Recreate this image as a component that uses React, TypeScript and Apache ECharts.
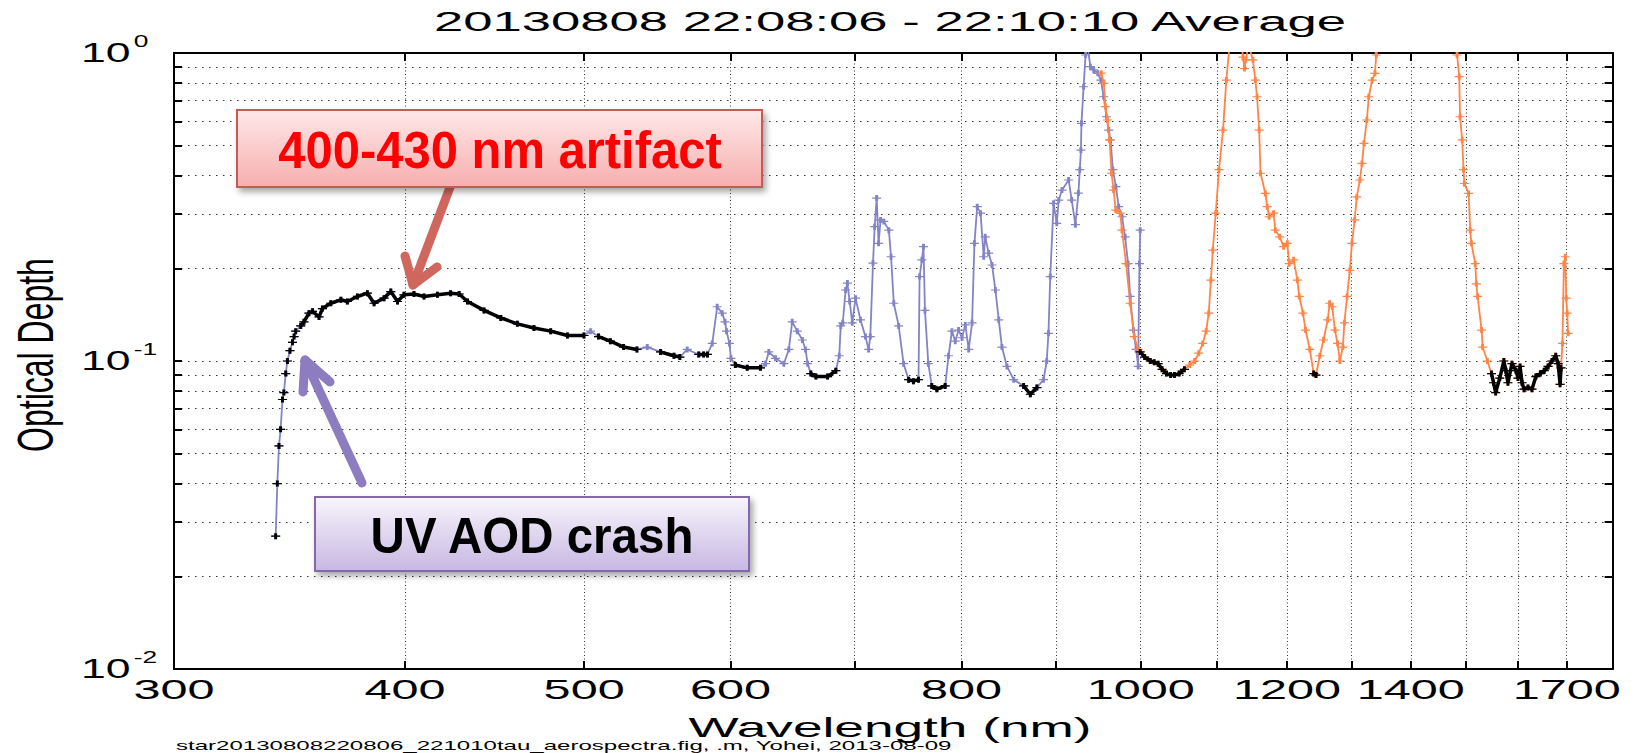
import { useEffect, useRef } from "react";
import * as echarts from "echarts";

// VIS spectrometer: wavelength (nm) and aerosol optical depth
const visWavelength = [
  340.5, 341.2, 341.9, 342.6, 343.4, 344.0, 344.8, 345.5, 346.6, 347.7, 348.4, 349.1,
  351.3, 352.7, 354.9, 356.5, 359.4, 360.9, 364.7, 369.3, 372.3, 377.0, 381.7, 384.9,
  389.7, 393.0, 396.3, 399.5, 404.5, 409.6, 416.5, 423.4, 427.9, 432.4, 441.4, 450.7,
  460.1, 469.7, 479.6, 489.7, 499.9, 504.0, 509.0, 516.6, 525.2, 534.0, 540.9, 549.9,
  559.2, 563.3, 568.5, 576.7, 580.2, 583.0, 586.5, 590.1, 593.8, 595.9, 597.0, 599.2,
  600.3, 603.6, 612.6, 622.8, 626.7, 629.3, 634.6, 641.2, 645.2, 647.9, 652.0, 656.2,
  658.7, 660.5, 663.1, 667.3, 677.1, 684.1, 687.0, 688.3, 690.0, 692.5, 694.0, 696.0,
  698.2, 701.1, 705.4, 709.8, 712.6, 714.1, 716.5, 718.0, 719.8, 721.5, 723.3, 726.2,
  730.8, 732.8, 735.3, 739.8, 744.3, 749.0, 753.5, 758.3, 759.3, 761.5, 763.0, 764.4,
  767.6, 770.9, 775.8, 783.9, 787.2, 790.5, 793.8, 797.1, 800.5, 803.8, 807.2, 810.6,
  813.0, 815.8, 819.2, 822.4, 824.0, 827.5, 831.0, 834.5, 838.0, 841.3, 846.6, 853.7,
  864.3, 871.6, 878.8, 886.1, 889.6, 891.5, 893.5, 897.2, 900.8, 903.0, 906.7, 914.2,
  917.7, 921.9, 925.4, 927.0, 928.3, 928.9, 931.4, 933.7, 936.0, 939.3, 943.2, 948.0,
  951.7, 955.0, 958.3, 961.0, 963.2, 966.0, 969.6, 973.0, 977.0, 980.8, 984.5, 987.0,
  991.0, 994.3, 996.9, 998.5, 999.4,
];
const visTau = [
  0.027, 0.040, 0.053, 0.060, 0.075, 0.079, 0.091, 0.100, 0.108, 0.115, 0.120, 0.125,
  0.130, 0.134, 0.143, 0.145, 0.139, 0.148, 0.154, 0.158, 0.156, 0.162, 0.166, 0.154,
  0.160, 0.168, 0.156, 0.164, 0.165, 0.162, 0.164, 0.166, 0.165, 0.156, 0.146, 0.138,
  0.132, 0.128, 0.125, 0.121, 0.121, 0.125, 0.120, 0.116, 0.111, 0.109, 0.111, 0.107,
  0.104, 0.103, 0.109, 0.105, 0.105, 0.105, 0.114, 0.150, 0.143, 0.134, 0.125, 0.114,
  0.102, 0.097, 0.095, 0.095, 0.098, 0.107, 0.102, 0.098, 0.109, 0.134, 0.125, 0.117,
  0.109, 0.098, 0.091, 0.089, 0.089, 0.093, 0.104, 0.130, 0.133, 0.170, 0.179, 0.156,
  0.133, 0.160, 0.136, 0.120, 0.109, 0.120, 0.208, 0.273, 0.338, 0.241, 0.287, 0.284,
  0.266, 0.218, 0.154, 0.130, 0.098, 0.087, 0.086, 0.087, 0.188, 0.213, 0.235, 0.146,
  0.098, 0.083, 0.081, 0.083, 0.104, 0.125, 0.116, 0.126, 0.119, 0.131, 0.109, 0.133,
  0.241, 0.317, 0.302, 0.218, 0.253, 0.224, 0.205, 0.170, 0.136, 0.111, 0.096, 0.087,
  0.083, 0.078, 0.082, 0.087, 0.100, 0.123, 0.188, 0.325, 0.280, 0.333, 0.359, 0.387,
  0.333, 0.277, 0.351, 0.418, 0.484, 0.591, 0.777, 0.985, 1.050, 0.903, 0.881, 0.859,
  0.817, 0.721, 0.621, 0.562, 0.522, 0.418, 0.368, 0.317, 0.294, 0.253, 0.207, 0.162,
  0.126, 0.109, 0.096, 0.207, 0.266,
];

// NIR spectrometer: wavelength (nm) and optical depth (values above 1 run off the top)
const nirWavelength = [
  952.0, 955.2, 957.0, 959.5, 962.0, 964.4, 966.8, 969.5, 974.8, 977.0, 982.0, 987.0,
  992.0, 996.9, 999.4, 1005, 1012, 1017, 1022, 1027, 1032.6, 1038, 1043, 1049,
  1056, 1063, 1069.5, 1075, 1080.3, 1085, 1088.5, 1091.4, 1094, 1098, 1102.5, 1108,
  1112.6, 1116.4, 1121, 1126, 1131, 1134, 1136, 1138, 1140, 1143, 1146, 1150,
  1153.5, 1156, 1159, 1161, 1168, 1170.7, 1173.5, 1180, 1182.6, 1189, 1195, 1200.4,
  1203.2, 1210, 1215.5, 1218.4, 1224, 1228, 1234.5, 1240.5, 1244, 1250, 1255.7, 1262.4,
  1265.3, 1269.4, 1273.8, 1277.9, 1281.6, 1286.4, 1288.8, 1293.1, 1297.6, 1301, 1305.4, 1308.9,
  1314, 1317.4, 1320.6, 1325.4, 1328.6, 1334.2, 1338.8, 1341, 1346, 1360, 1400, 1440,
  1470, 1480, 1483, 1487, 1488.5, 1492.5, 1495, 1496.5, 1504.5, 1507.5, 1509.6, 1517,
  1519, 1521.4, 1529, 1531, 1540, 1548, 1552, 1556, 1564, 1572, 1576, 1580,
  1588, 1596, 1600, 1604, 1608, 1612, 1620, 1628, 1636, 1645, 1653, 1661,
  1669, 1677, 1682, 1686, 1688, 1691, 1694, 1697, 1699, 1701, 1703,
];
const nirTau = [
  0.860, 0.797, 0.670, 0.606, 0.522, 0.407, 0.359, 0.309, 0.302, 0.266, 0.207, 0.154,
  0.120, 0.109, 0.107, 0.103, 0.100, 0.099, 0.098, 0.094, 0.091, 0.090, 0.090, 0.091,
  0.094, 0.097, 0.100, 0.106, 0.114, 0.125, 0.143, 0.183, 0.229, 0.302, 0.418, 0.562,
  0.817, 1.020, 1.600, 2.200, 1.500, 1.060, 0.970, 0.890, 0.950, 1.040, 1.020, 0.950,
  0.817, 0.721, 0.562, 0.407, 0.350, 0.317, 0.294, 0.302, 0.266, 0.253, 0.235, 0.241,
  0.207, 0.213, 0.183, 0.162, 0.143, 0.126, 0.109, 0.091, 0.090, 0.104, 0.117, 0.136,
  0.154, 0.150, 0.126, 0.114, 0.100, 0.111, 0.133, 0.162, 0.197, 0.241, 0.287, 0.341,
  0.387, 0.438, 0.509, 0.606, 0.721, 0.817, 0.859, 0.985, 1.500, 3.000, 5.000, 5.000,
  3.000, 1.400, 0.985, 0.838, 0.621, 0.522, 0.418, 0.377, 0.350, 0.266, 0.241, 0.207,
  0.178, 0.162, 0.126, 0.111, 0.100, 0.091, 0.085, 0.079, 0.088, 0.100, 0.093, 0.085,
  0.098, 0.093, 0.088, 0.096, 0.085, 0.081, 0.082, 0.081, 0.089, 0.091, 0.093, 0.096,
  0.100, 0.104, 0.098, 0.084, 0.095, 0.114, 0.207, 0.218, 0.160, 0.143, 0.123,
];

// Aerosol (non-absorbing) wavelength windows, marked in black
const aerosolBands: [number, number][] = [
  [350, 501], [509, 539], [545, 566], [572, 584], [603, 625], [663, 685],
  [749, 758.5], [770, 785], [860, 882], [999, 1060], [1238, 1246], [1545, 1688],
];
// UV onset: aerosol points drawn as separate markers only
const aerosolMarkerBands: [number, number][] = [[340, 349.5]];

const xTickValues = [300, 400, 500, 600, 700, 800, 900, 1000, 1100, 1200, 1300, 1400, 1500, 1600, 1700, 1800];
const xLabelValues = [300, 400, 500, 600, 800, 1000, 1200, 1400, 1700];
const yTickValues = [
  0.01, 0.02, 0.03, 0.04, 0.05, 0.06, 0.07, 0.08, 0.09,
  0.1, 0.2, 0.3, 0.4, 0.5, 0.6, 0.7, 0.8, 0.9, 1,
];
const yLabelExponents = [-2, -1, 0];

const titleText = "20130808 22:08:06 - 22:10:10 Average";
const xAxisTitle = "Wavelength (nm)";
const yAxisTitle = "Optical Depth";
const footnoteText = "star20130808220806_221010tau_aerospectra.fig, .m, Yohei, 2013-08-09";
const artifactNote = "400-430 nm artifact";
const crashNote = "UV AOD crash";

const VIS_COLOR = "#8383c6";
const NIR_COLOR = "#ff8446";
const AERO_COLOR = "#000000";
const FONT = '"Liberation Sans", Arial, sans-serif';
const PLUS = "path://M0,4L10,4L10,6L0,6Z M3.4,0L6.6,0L6.6,10L3.4,10Z";

const lg = (v: number) => Math.log10(v);

function pairs(w: number[], t: number[]) {
  return w.map((x, i) => [lg(x), lg(t[i])]);
}

function sourceFor(lo: number) {
  return lo >= 999 ? { w: nirWavelength, t: nirTau } : { w: visWavelength, t: visTau };
}

function aerosolData() {
  const out: any[] = [];
  for (const [lo, hi] of aerosolMarkerBands) {
    const { w, t } = sourceFor(lo);
    w.forEach((x, i) => {
      if (x >= lo && x <= hi) {
        out.push([lg(x), lg(t[i])]);
        out.push([lg(x), "-"]);
      }
    });
  }
  for (const [lo, hi] of aerosolBands) {
    const { w, t } = sourceFor(lo);
    w.forEach((x, i) => {
      if (x >= lo && x <= hi) out.push([lg(x), lg(t[i])]);
    });
    out.push([lg(hi), "-"]);
  }
  return out;
}

function textEl(text: string, x: number, y: number, size: number, opts: any = {}) {
  const { align = "center", weight = "normal", fill = "#000", scaleX = 1, scaleY = 1, rotation = 0, z = 10 } = opts;
  return {
    type: "text",
    x,
    y,
    scaleX,
    scaleY,
    rotation,
    z,
    silent: true,
    style: {
      text,
      fill,
      fontSize: size,
      fontFamily: FONT,
      fontWeight: weight,
      align,
      textAlign: align,
      verticalAlign: "middle",
      textVerticalAlign: "middle",
    },
  };
}

function arrow(tail: number[], tip: number[], armA: number[], armB: number[], color: string) {
  const style = { stroke: color, lineWidth: 9, lineCap: "round", lineJoin: "round", fill: null };
  return [
    { type: "polyline", z: 20, silent: true, shape: { points: [tail, tip] }, style },
    { type: "polyline", z: 20, silent: true, shape: { points: [armA, tip, armB] }, style },
  ];
}

function noteBox(x: number, y: number, w: number, h: number, top: string, bottom: string, border: string) {
  return {
    type: "rect",
    z: 30,
    silent: true,
    shape: { x, y, width: w, height: h },
    style: {
      fill: new echarts.graphic.LinearGradient(0, 0, 0, 1, [
        { offset: 0, color: top },
        { offset: 1, color: bottom },
      ]),
      stroke: border,
      lineWidth: 2,
      shadowBlur: 6,
      shadowOffsetX: 3,
      shadowOffsetY: 4,
      shadowColor: "rgba(0,0,0,0.35)",
    },
  };
}

function axisPair(kind: "x" | "y") {
  const ticks = (kind === "x" ? xTickValues : yTickValues).map(lg);
  const range = kind === "x" ? [lg(300), lg(1800)] : [lg(0.01), lg(1)];
  const base = {
    type: "value",
    min: range[0],
    max: range[1],
    axisLine: { show: true, onZero: false, lineStyle: { color: "#000", width: 2 } },
    axisTick: { show: true, inside: true, length: 8, customValues: ticks, lineStyle: { color: "#000", width: 2 } },
    axisLabel: { show: false },
    splitLine: { show: false },
  };
  const grid = {
    ...base,
    splitLine: {
      show: true,
      lineStyle: { color: "#333333", width: 1, type: kind === "x" ? [1, 2.5] : [1.5, 5.5] },
    },
  };
  return kind === "x"
    ? [{ ...grid, position: "bottom" }, { ...base, position: "top" }]
    : [{ ...grid, position: "left" }, { ...base, position: "right" }];
}

export default function App() {
  const ref = useRef<HTMLDivElement>(null);

  useEffect(() => {
    if (!ref.current) return;
    const chart = echarts.init(ref.current, null, { renderer: "svg" });

    const lineSeries = (name: string, data: any[], color: string, width: number, size: number[], z: number) => ({
      name,
      type: "line",
      data,
      z,
      clip: true,
      silent: true,
      connectNulls: false,
      symbol: PLUS,
      symbolSize: size,
      itemStyle: { color, borderWidth: 0 },
      lineStyle: { color, width },
      emphasis: { disabled: true },
    });

    chart.setOption({
      animation: false,
      backgroundColor: "#ffffff",
      grid: { left: 174, right: 22.4, top: 53, bottom: 84, outerBoundsMode: "none" },
      xAxis: axisPair("x"),
      yAxis: axisPair("y"),
      series: [
        lineSeries("VIS", pairs(visWavelength, visTau), VIS_COLOR, 1.8, [9, 6], 2),
        lineSeries("NIR", pairs(nirWavelength, nirTau), NIR_COLOR, 1.8, [9, 6], 3),
        lineSeries("Aerosol", aerosolData(), AERO_COLOR, 3.5, [9, 6], 4),
      ],
    });

    const xLabels = xLabelValues.map((v) => {
      const px = chart.convertToPixel({ xAxisIndex: 0 }, lg(v)) as number;
      return textEl(String(v), px, 689, 27, { scaleX: 1.8 });
    });
    const yLabels = yLabelExponents.map((e) => {
      const py = chart.convertToPixel({ yAxisIndex: 0 }, e) as number;
      return {
        type: "text",
        x: 81,
        y: py,
        scaleX: 1.65,
        z: 10,
        silent: true,
        style: {
          text: `{b|10}{s|${e}}`,
          align: "left",
          textAlign: "left",
          verticalAlign: "middle",
          textVerticalAlign: "middle",
          rich: {
            b: { fontSize: 27, fontFamily: FONT, fill: "#000", lineHeight: 40, verticalAlign: "middle" },
            s: { fontSize: 16, fontFamily: FONT, fill: "#000", verticalAlign: "top", padding: [0, 0, 0, 2] },
          },
        },
      };
    });

    chart.setOption({
      graphic: {
        elements: [
          textEl(titleText, 890, 21, 28, { scaleX: 1.88 }),
          textEl(xAxisTitle, 890, 727, 28, { scaleX: 1.9 }),
          textEl(yAxisTitle, 36, 355, 32, { rotation: Math.PI / 2, scaleY: 1.55 }),
          textEl(footnoteText, 176, 746, 13, { align: "left", scaleX: 1.85 }),
          ...xLabels,
          ...yLabels,
          ...arrow([452, 182], [413, 285], [405, 256], [437, 267], "#d0675f"),
          noteBox(237, 110, 525, 77, "#ffe8e8", "#f7aeae", "#c65a55"),
          textEl(artifactNote, 500, 151, 51, { weight: "bold", fill: "#ff0000", scaleX: 0.96, z: 40 }),
          ...arrow([362, 483], [305, 360], [303, 392], [330, 382], "#8e7cc1"),
          noteBox(315, 497, 434, 74, "#f8f5fc", "#c7b8e2", "#8468a8"),
          textEl(crashNote, 532, 536, 50, { weight: "bold", fill: "#000", scaleX: 0.95, z: 40 }),
        ],
      },
    });

    return () => chart.dispose();
  }, []);

  return (
    <div
      ref={ref}
      style={{ position: "absolute", left: 0, top: 0, width: 1635, height: 753, background: "#fff" }}
    />
  );
}
